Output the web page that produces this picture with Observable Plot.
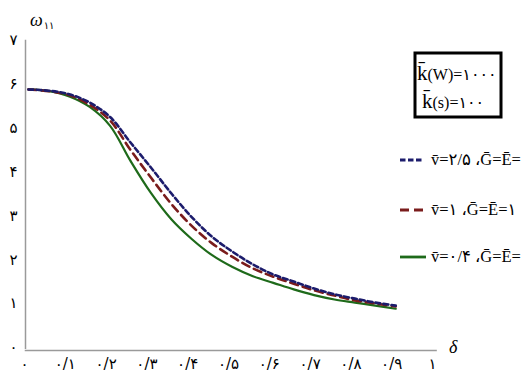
<!DOCTYPE html>
<html><head><meta charset="utf-8">
<script src="https://cdn.jsdelivr.net/npm/d3@7"></script>
<script src="https://cdn.jsdelivr.net/npm/@observablehq/plot@0.6"></script>
<style>body{margin:0;background:#fff;overflow:hidden}</style>
</head><body><div id="chart"></div>
<script>
// data
const delta = [0,0.05,0.1,0.15,0.2,0.25,0.3,0.35,0.4,0.45,0.5,0.55,0.6,0.65,0.7,0.75,0.8,0.85,0.9];
const omegaV25 = [5.93,5.90,5.82,5.63,5.30,4.72,4.15,3.56,3.02,2.57,2.23,1.94,1.71,1.55,1.39,1.26,1.16,1.07,1.00];
const omegaV1  = [5.93,5.89,5.80,5.58,5.22,4.55,3.92,3.32,2.82,2.42,2.11,1.85,1.66,1.50,1.35,1.23,1.12,1.05,0.98];
const omegaV04 = [5.93,5.89,5.77,5.53,5.10,4.30,3.57,2.97,2.52,2.15,1.88,1.67,1.52,1.37,1.24,1.14,1.07,1.00,0.93];
const xTicks = [0,0.1,0.2,0.3,0.4,0.5,0.6,0.7,0.8,0.9,1];
const xTickLabels = ["۰","۰/۱","۰/۲","۰/۳","۰/۴","۰/۵","۰/۶","۰/۷","۰/۸","۰/۹","۱"];
const yTicks = [0,1,2,3,4,5,6,7];
const yTickLabels = ["۰","۱","۲","۳","۴","۵","۶","۷"];
const seriesNames = ["v̄=۲/۵ ،Ḡ=Ē=","v̄=۱ ،Ḡ=Ē=۱","v̄=۰/۴ ،Ḡ=Ē="];
const seriesColors = ["#1c1c6c","#7a1c1c","#1e6a1a"];
const seriesDash = ["5,3","8,5",null];
const boxLines = [["k̄","(W)=۱۰۰۰"],["k̄","(s)=۱۰۰"]];

const allValues = [omegaV25, omegaV1, omegaV04];
const series = allValues.map((vals,s) => delta.map((d,i) => ({delta:d, omega:vals[i], s})));

const lineMark = s => Plot.line(series[s], {
  x:"delta", y:"omega", stroke: seriesColors[s], strokeWidth: s===2 ? 2.2 : 2.6,
  strokeDasharray: seriesDash[s] || undefined, curve:"catmull-rom"
});

const chart = Plot.plot({
  width:531, height:377,
  marginLeft:28, marginRight:95, marginTop:42, marginBottom:28,
  x:{domain:[0,1]}, y:{domain:[0,7]},
  style:{fontFamily:"DejaVu Sans, sans-serif", fontSize:"15px", background:"white", color:"#000"},
  marks:[
    Plot.ruleX([0], {stroke:"#9a9a9a", strokeWidth:1.5, dx:-3, y1:0, y2:7.05}),
    Plot.ruleY([0], {stroke:"#9a9a9a", strokeWidth:1.5, dy:1, x1:-0.008, x2:1.002}),
    Plot.axisX({ticks:xTicks, tickFormat:d => xTickLabels[xTicks.indexOf(d)], tickSize:0, tickPadding:9, label:null, dx:-4, fontSize:15}),
    Plot.axisY({ticks:yTicks, tickFormat:d => yTickLabels[yTicks.indexOf(d)], tickSize:0, tickPadding:11, label:null, dy:-2, fontSize:15}),
    lineMark(2), lineMark(1), lineMark(0)
  ]
});
document.getElementById("chart").appendChild(chart);

const svg = d3.select(chart);
const serif = "Liberation Serif, DejaVu Sans, serif";
// axis titles
const t = svg.append("text").attr("x",30).attr("y",26).attr("text-anchor","start").attr("font-family",serif).attr("font-style","italic");
t.append("tspan").attr("font-size",18).text("ω");
t.append("tspan").attr("font-size",10).attr("dy",3).attr("dx",1).attr("font-family","DejaVu Sans").attr("font-style","normal").text("۱۱");
svg.append("text").attr("x",449).attr("y",353).attr("text-anchor","start").attr("font-family",serif).attr("font-style","italic").attr("font-size",18).text("δ");

// info box
svg.append("rect").attr("x",415).attr("y",53).attr("width",86).attr("height",64)
  .attr("fill","white").attr("stroke","#000").attr("stroke-width",3);
boxLines.forEach((ln,i) => {
  const tx = svg.append("text").attr("x", i===0 ? 417 : 422).attr("y", i===0 ? 80 : 108)
    .attr("text-anchor","start").attr("font-family",serif)
    .style("unicode-bidi","bidi-override").style("direction","ltr");
  tx.append("tspan").attr("font-size",21).text(ln[0]);
  tx.append("tspan").attr("font-size",16).text(ln[1]);
});

// legend
const legY = [160,210,257];
seriesNames.forEach((name,i) => {
  svg.append("line").attr("x1",400).attr("x2", i===2 ? 426 : 423).attr("y1",legY[i]).attr("y2",legY[i])
    .attr("stroke",seriesColors[i]).attr("stroke-width",2.8)
    .attr("stroke-dasharray", i===0 ? "5.5,2.5" : i===1 ? "9,5" : null);
  svg.append("text").attr("x",431).attr("y",legY[i]+5).attr("text-anchor","start")
    .attr("font-family",serif).attr("font-size",16.5)
    .style("unicode-bidi","bidi-override").style("direction","ltr").text(name);
});
</script></body></html>
